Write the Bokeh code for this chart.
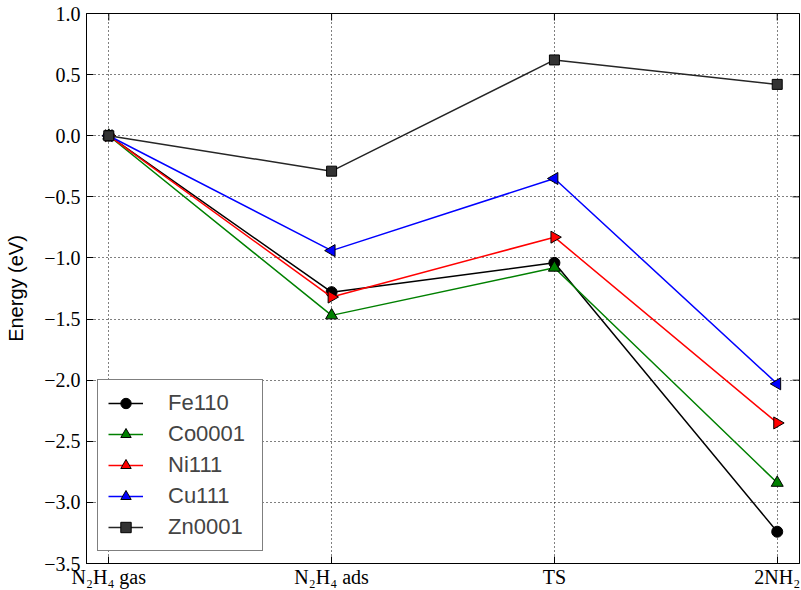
import numpy as np
from bokeh.plotting import figure
from bokeh.models import (Range1d, FixedTicker, Legend, LegendItem,
                          CustomJSTickFormatter, ColumnDataSource)
from bokeh.embed import file_html
from bokeh.resources import INLINE

# ---- data ----
stages = ["N\u2082H\u2084 gas", "N\u2082H\u2084 ads", "TS", "2NH\u2082"]
stage_x = [0, 1, 2, 3]
series_names = ["Fe110", "Co0001", "Ni111", "Cu111", "Zn0001"]
fe110 = [0.0, -1.28, -1.04, -3.24]
co0001 = [0.0, -1.47, -1.08, -2.84]
ni111 = [0.0, -1.32, -0.83, -2.35]
cu111 = [0.0, -0.94, -0.35, -2.03]
zn0001 = [0.0, -0.29, 0.62, 0.42]
y_ticks = [-3.5, -3.0, -2.5, -2.0, -1.5, -1.0, -0.5, 0.0, 0.5, 1.0]

series_values = [fe110, co0001, ni111, cu111, zn0001]
line_colors = ["#000000", "#008000", "#ff0000", "#0000ff", "#262626"]
fill_colors = ["#000000", "#008000", "#ff0000", "#0000ff", "#333333"]
markers = ["circle", "triangle", "triangle", "triangle", "square"]
angles = [0.0, 0.0, -np.pi / 2, np.pi / 2, 0.0]
sizes = [11, 12, 12, 12, 10]

x_range = Range1d(-0.1, 3.1)
y_range = Range1d(-3.5, 1.0)

p = figure(width=801, height=590, output_backend="svg", toolbar_location=None,
           x_range=x_range, y_range=y_range,
           min_border_left=86, min_border_right=2, min_border_top=13,
           min_border_bottom=24)

p.outline_line_color = "black"
p.outline_line_width = 1
p.background_fill_color = "white"
p.border_fill_color = "white"

xt = FixedTicker(ticks=stage_x)
yt = FixedTicker(ticks=y_ticks)

p.xaxis.ticker = xt
p.yaxis.ticker = yt
p.xgrid.ticker = xt
p.ygrid.ticker = yt

p.xaxis.major_label_overrides = {i: s for i, s in zip(stage_x, stages)}
p.yaxis.formatter = CustomJSTickFormatter(
    code="return tick.toFixed(1).replace('-', '\u2212');")

for ax in [p.xaxis[0], p.yaxis[0]]:
    ax.major_tick_in = 7
    ax.major_tick_out = 0
    ax.minor_tick_in = 0
    ax.minor_tick_out = 0
    ax.axis_line_color = "black"
    ax.major_tick_line_color = "black"
    ax.major_label_text_font = "Liberation Serif"
    ax.major_label_text_font_size = "20px"
    ax.major_label_text_color = "black"

p.xaxis.major_label_standoff = 2
p.yaxis.major_label_standoff = 6
p.yaxis.axis_label = "Energy (eV)"
p.yaxis.axis_label_text_font = "Liberation Sans"
p.yaxis.axis_label_text_font_style = "normal"
p.yaxis.axis_label_text_font_size = "20px"
p.yaxis.axis_label_text_color = "black"
p.yaxis.axis_label_standoff = 14

p.grid.grid_line_color = "black"
p.grid.grid_line_dash = "1 3"
p.grid.grid_line_width = 1
p.grid.grid_line_alpha = 1

# mirrored inward tick marks on the right and top frame edges
p.scatter([x_range.end] * len(y_ticks), y_ticks, marker="dash", size=14,
          line_color="black", line_width=1)
p.scatter(stage_x, [y_range.end] * len(stage_x), marker="dash", angle=np.pi / 2,
          size=14, line_color="black", line_width=1)

items = []
for name, vals, lc, fc, mk, ang, sz in zip(series_names, series_values, line_colors,
                                         fill_colors, markers, angles, sizes):
    src = ColumnDataSource(dict(x=stage_x, y=vals))
    lr = p.line("x", "y", source=src, line_color=lc, line_width=1.5)
    sr = p.scatter("x", "y", source=src, marker=mk, angle=ang, size=sz,
                   fill_color=fc, line_color="black", line_width=1)
    items.append(LegendItem(label=name, renderers=[lr, sr]))

legend = Legend(items=items, location=(11, 12),
                label_text_font="Liberation Sans", label_text_font_size="22px",
                glyph_width=35, glyph_height=26, label_height=26, label_width=84,
                spacing=5, padding=10, margin=0, label_standoff=25,
                border_line_color="black", border_line_width=1.5,
                background_fill_color="white", background_fill_alpha=1)
p.add_layout(legend, "center")

open("out.html", "w").write(file_html(p, INLINE))
